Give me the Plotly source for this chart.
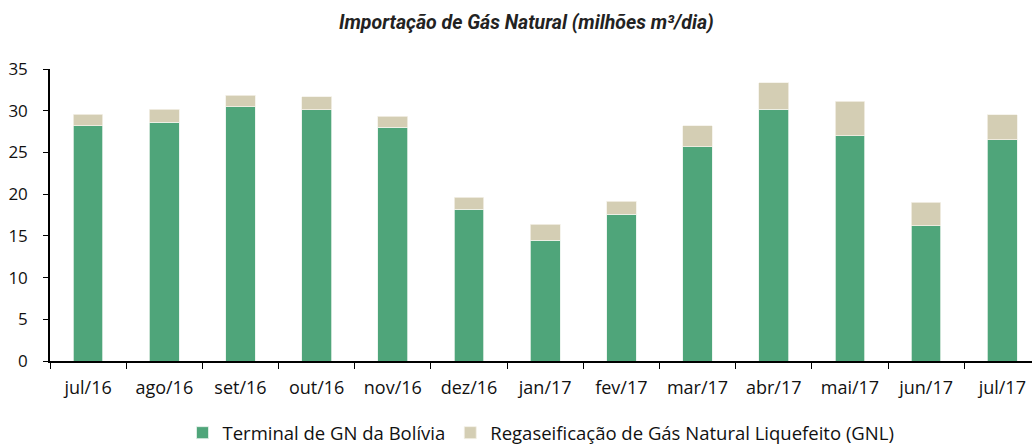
import plotly.graph_objects as go

categories = ["jul/16", "ago/16", "set/16", "out/16", "nov/16", "dez/16", "jan/17",
              "fev/17", "mar/17", "abr/17", "mai/17", "jun/17", "jul/17"]
bolivia = [28.2, 28.6, 30.5, 30.1, 28.0, 18.2, 14.5, 17.6, 25.7, 30.2, 27.0, 16.2, 26.5]
gnl = [1.4, 1.6, 1.35, 1.55, 1.35, 1.4, 1.9, 1.55, 2.5, 3.15, 4.15, 2.85, 3.0]
y_ticks = [0, 5, 10, 15, 20, 25, 30, 35]

fig = go.Figure()
fig.add_trace(go.Bar(x=categories, y=bolivia, name="Terminal de GN da Bolívia",
                     marker=dict(color="#4FA57A", line=dict(color="#E8F2EC", width=0.8)),
                     width=0.39))
fig.add_trace(go.Bar(x=categories, y=gnl, name="Regaseificação de Gás Natural Liquefeito (GNL)",
                     marker=dict(color="#D4CEB4", line=dict(color="#F4F1E8", width=0.8)),
                     width=0.39))

fig.update_layout(
    barmode="stack",
    width=1032, height=447,
    margin=dict(l=50, r=0, t=69, b=86, autoexpand=False),
    paper_bgcolor="white", plot_bgcolor="white",
    font=dict(family="Open Sans, sans-serif", size=15, color="#111111"),
    title=dict(text="<b><i>Importação de Gás Natural (milhões m³/dia)</i></b>",
               x=0.51, xanchor="center", y=0.951, yanchor="middle",
               font=dict(family="Liberation Sans Narrow, Roboto, sans-serif", size=19.5, color="#222222")),
    showlegend=True,
    legend=dict(orientation="h", x=0.5, xanchor="center", y=-0.247, yanchor="middle",
                font=dict(size=18.5), itemwidth=30, traceorder="normal"),
    bargap=0.61,
)
fig.update_xaxes(type="category", range=[-0.5, 12.39], showline=True, linecolor="black", linewidth=1.5,
                 ticks="outside", tickson="boundaries", ticklen=6, tickcolor="black",
                 showgrid=False, tickfont=dict(size=18), automargin=False, ticklabelstandoff=10)
fig.update_yaxes(range=[0, 35], tickvals=y_ticks, showline=True, linecolor="black", linewidth=1.5,
                 ticks="outside", ticklen=5, tickcolor="black", showgrid=False, zeroline=False,
                 tickfont=dict(size=17), automargin=False, ticklabelstandoff=12)

fig.write_html("out.html", config={"displayModeBar": False},
               post_script="document.body.style.margin='0';document.body.style.overflow='hidden';")
